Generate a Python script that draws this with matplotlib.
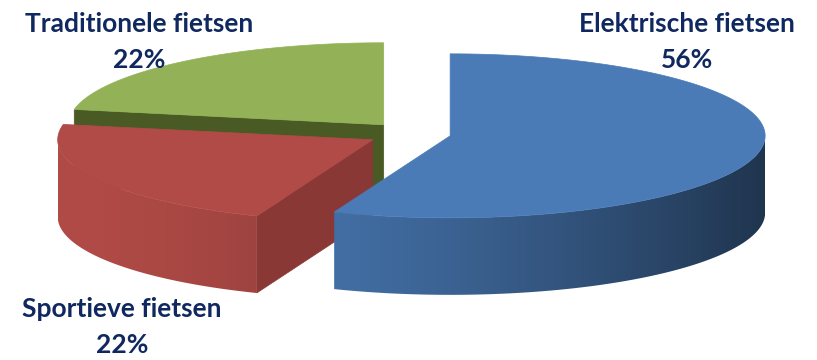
import numpy as np
import matplotlib
matplotlib.use('Agg')
import matplotlib.pyplot as plt
from matplotlib.patches import Polygon
from matplotlib.colors import to_rgb

# ---- data ----
labels = ['Elektrische fietsen', 'Sportieve fietsen', 'Traditionele fietsen']
values = [56, 22, 22]
pct_labels = ['56%', '22%', '22%']

# ---- style ----
top_colors = ['#4A7BB7', '#B14B47', '#93B257']
cut_colors = ['#2B4A75', '#8A3835', '#4A5A25']
explode = [0.12, 0.146, 0.146]
text_color = '#0F2860'
label_pos = [(687, 32, 68), (122, 317, 353), (139, 32, 68)]  # x, baseline line1, baseline line2

W, H = 817, 360
fig = plt.figure(figsize=(W / 100, H / 100), dpi=100)
ax = fig.add_axes([0, 0, 1, 1])
ax.set_xlim(0, W)
ax.set_ylim(H, 0)
ax.axis('off')

cx, cy = 413, 134
rx, ry = 315, 82
depth = 77

fr = np.array(values, float) / sum(values)
ends = np.cumsum(fr) * 2 * np.pi
starts = np.concatenate([[0], ends[:-1]])


def pt(c, th, z=0.0):
    return (c[0] + rx * np.sin(th), c[1] - ry * np.cos(th) + z)


order = [2, 1, 0]
for i in order:
    s, e = starts[i], ends[i]
    mid = (s + e) / 2
    c = (cx + explode[i] * rx * np.sin(mid), cy - explode[i] * ry * np.cos(mid))
    z = 1
    # cut faces
    for a, n in ((s, s - np.pi / 2), (e, e + np.pi / 2)):
        if np.cos(n) < -1e-6:
            p1 = (c[0], c[1])
            p2 = pt(c, a)
            p3 = pt(c, a, depth)
            p4 = (c[0], c[1] + depth)
            ax.add_patch(Polygon([p1, p2, p3, p4], closed=True, facecolor=cut_colors[i],
                                 edgecolor=cut_colors[i], lw=0.5, zorder=z))
    # outer side (front facing), horizontal gradient clipped to the side shape
    a0, a1 = max(s, np.pi / 2), min(e, 3 * np.pi / 2)
    if a1 > a0:
        th = np.linspace(a0, a1, 300)
        top = [pt(c, t_) for t_ in th]
        bot = [pt(c, t_, depth) for t_ in th[::-1]]
        side = Polygon(top + bot, closed=True, facecolor='none', edgecolor='none', zorder=z)
        ax.add_patch(side)
        xs = np.linspace(c[0] - rx, c[0] + rx, 400)
        tt = (xs - (c[0] - rx)) / (2 * rx)
        f = 1.0 - 0.57 * tt ** 1.5
        base = np.array(to_rgb(top_colors[i]))
        img = np.clip(base[None, :] * f[:, None], 0, 1)[None, :, :]
        im = ax.imshow(img, extent=(c[0] - rx, c[0] + rx, c[1] + ry + depth + 2, c[1] - ry - 2),
                       aspect='auto', interpolation='bilinear', zorder=z)
        im.set_clip_path(side)
        # soft edge around side to avoid gaps
        ax.add_patch(Polygon(top + bot, closed=True, facecolor='none',
                             edgecolor='none', zorder=z))
    # top
    th = np.linspace(s, e, 300)
    poly = [c] + [pt(c, t_) for t_ in th]
    ax.add_patch(Polygon(poly, closed=True, facecolor=top_colors[i], edgecolor=top_colors[i],
                         lw=0.5, zorder=z))

ax.set_xlim(0, W)
ax.set_ylim(H, 0)

fam = ['Liberation Sans Narrow', 'Lato', 'DejaVu Sans']
for i in range(len(labels)):
    x, b1, b2 = label_pos[i]
    ax.text(x, b1, labels[i], ha='center', va='baseline', fontsize=19, fontweight='bold',
            color=text_color, family=fam, zorder=10)
    ax.text(x, b2, pct_labels[i], ha='center', va='baseline', fontsize=19, fontweight='bold',
            color=text_color, family=fam, zorder=10)

fig.savefig('out.png', dpi=100)
